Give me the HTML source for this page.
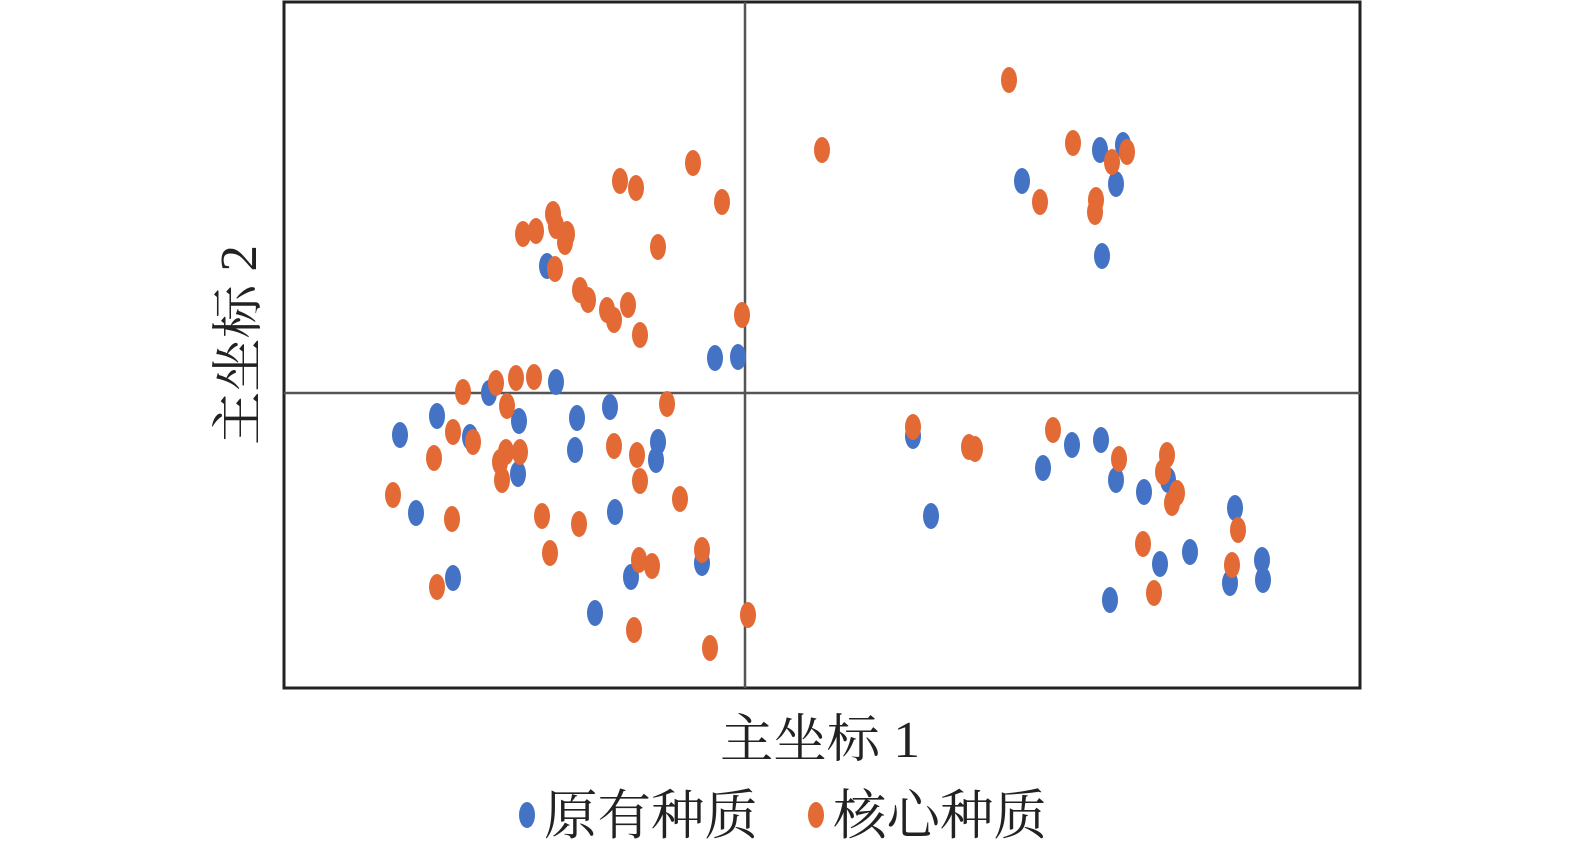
<!DOCTYPE html>
<html><head><meta charset="utf-8"><style>
html,body{margin:0;padding:0;background:#fff;overflow:hidden;width:1575px;height:846px;}
svg{display:block;}
text{font-family:"Liberation Serif","Noto Serif CJK SC",serif;fill:#222;}
</style></head><body>
<svg width="1575" height="846" viewBox="0 0 1575 846" xmlns="http://www.w3.org/2000/svg">
<rect x="284" y="2" width="1076" height="686" fill="#fff" stroke="#222" stroke-width="3"/>
<line x1="745" y1="2" x2="745" y2="688" stroke="#555" stroke-width="2.5"/>
<line x1="284" y1="393" x2="1360" y2="393" stroke="#555" stroke-width="2.5"/>
<g id="b" fill="#4472c4">
<ellipse cx="489" cy="393" rx="8" ry="13"/><ellipse cx="556" cy="382" rx="8" ry="13"/><ellipse cx="437" cy="416" rx="8" ry="13"/><ellipse cx="400" cy="435" rx="8" ry="13"/><ellipse cx="470" cy="437" rx="8" ry="13"/><ellipse cx="519" cy="421" rx="8" ry="13"/><ellipse cx="577" cy="418" rx="8" ry="13"/><ellipse cx="610" cy="407" rx="8" ry="13"/><ellipse cx="575" cy="450" rx="8" ry="13"/><ellipse cx="658" cy="442" rx="8" ry="13"/><ellipse cx="656" cy="460" rx="8" ry="13"/><ellipse cx="518" cy="474" rx="8" ry="13"/><ellipse cx="416" cy="513" rx="8" ry="13"/><ellipse cx="615" cy="512" rx="8" ry="13"/><ellipse cx="453" cy="578" rx="8" ry="13"/><ellipse cx="631" cy="577" rx="8" ry="13"/><ellipse cx="702" cy="563" rx="8" ry="13"/><ellipse cx="595" cy="613" rx="8" ry="13"/>
<ellipse cx="547" cy="266" rx="8" ry="13"/><ellipse cx="715" cy="358" rx="8" ry="13"/><ellipse cx="738" cy="357" rx="8" ry="13"/>
<ellipse cx="1100" cy="150" rx="8" ry="13"/><ellipse cx="1123" cy="145" rx="8" ry="13"/><ellipse cx="1022" cy="181" rx="8" ry="13"/><ellipse cx="1116" cy="184" rx="8" ry="13"/><ellipse cx="1102" cy="256" rx="8" ry="13"/>
<ellipse cx="913" cy="436" rx="8" ry="13"/><ellipse cx="931" cy="516" rx="8" ry="13"/><ellipse cx="1043" cy="468" rx="8" ry="13"/><ellipse cx="1072" cy="445" rx="8" ry="13"/><ellipse cx="1101" cy="440" rx="8" ry="13"/><ellipse cx="1116" cy="480" rx="8" ry="13"/><ellipse cx="1144" cy="492" rx="8" ry="13"/><ellipse cx="1168" cy="480" rx="8" ry="13"/><ellipse cx="1235" cy="508" rx="8" ry="13"/><ellipse cx="1160" cy="564" rx="8" ry="13"/><ellipse cx="1190" cy="552" rx="8" ry="13"/><ellipse cx="1230" cy="583" rx="8" ry="13"/><ellipse cx="1262" cy="560" rx="8" ry="13"/><ellipse cx="1263" cy="580" rx="8" ry="13"/><ellipse cx="1110" cy="600" rx="8" ry="13"/>
</g>
<g fill="#e46a35">
<ellipse cx="463" cy="392" rx="8" ry="13"/><ellipse cx="496" cy="383" rx="8" ry="13"/><ellipse cx="516" cy="378" rx="8" ry="13"/><ellipse cx="534" cy="377" rx="8" ry="13"/><ellipse cx="507" cy="406" rx="8" ry="13"/><ellipse cx="453" cy="432" rx="8" ry="13"/><ellipse cx="473" cy="442" rx="8" ry="13"/><ellipse cx="434" cy="458" rx="8" ry="13"/><ellipse cx="500" cy="462" rx="8" ry="13"/><ellipse cx="506" cy="452" rx="8" ry="13"/><ellipse cx="520" cy="452" rx="8" ry="13"/><ellipse cx="502" cy="480" rx="8" ry="13"/><ellipse cx="393" cy="495" rx="8" ry="13"/><ellipse cx="452" cy="519" rx="8" ry="13"/><ellipse cx="542" cy="516" rx="8" ry="13"/><ellipse cx="579" cy="524" rx="8" ry="13"/><ellipse cx="550" cy="553" rx="8" ry="13"/><ellipse cx="614" cy="446" rx="8" ry="13"/><ellipse cx="637" cy="455" rx="8" ry="13"/><ellipse cx="640" cy="481" rx="8" ry="13"/><ellipse cx="667" cy="404" rx="8" ry="13"/><ellipse cx="680" cy="499" rx="8" ry="13"/><ellipse cx="639" cy="560" rx="8" ry="13"/><ellipse cx="652" cy="566" rx="8" ry="13"/><ellipse cx="702" cy="550" rx="8" ry="13"/><ellipse cx="437" cy="587" rx="8" ry="13"/><ellipse cx="634" cy="630" rx="8" ry="13"/><ellipse cx="710" cy="648" rx="8" ry="13"/><ellipse cx="748" cy="615" rx="8" ry="13"/>
<ellipse cx="620" cy="181" rx="8" ry="13"/><ellipse cx="636" cy="188" rx="8" ry="13"/><ellipse cx="693" cy="163" rx="8" ry="13"/><ellipse cx="722" cy="202" rx="8" ry="13"/><ellipse cx="553" cy="214" rx="8" ry="13"/><ellipse cx="523" cy="234" rx="8" ry="13"/><ellipse cx="536" cy="231" rx="8" ry="13"/><ellipse cx="556" cy="226" rx="8" ry="13"/><ellipse cx="567" cy="234" rx="8" ry="13"/><ellipse cx="565" cy="242" rx="8" ry="13"/><ellipse cx="658" cy="247" rx="8" ry="13"/><ellipse cx="555" cy="269" rx="8" ry="13"/><ellipse cx="580" cy="290" rx="8" ry="13"/><ellipse cx="588" cy="300" rx="8" ry="13"/><ellipse cx="607" cy="310" rx="8" ry="13"/><ellipse cx="614" cy="320" rx="8" ry="13"/><ellipse cx="628" cy="305" rx="8" ry="13"/><ellipse cx="640" cy="335" rx="8" ry="13"/><ellipse cx="742" cy="315" rx="8" ry="13"/><ellipse cx="822" cy="150" rx="8" ry="13"/>
<ellipse cx="1009" cy="80" rx="8" ry="13"/><ellipse cx="1073" cy="143" rx="8" ry="13"/><ellipse cx="1112" cy="162" rx="8" ry="13"/><ellipse cx="1127" cy="152" rx="8" ry="13"/><ellipse cx="1040" cy="202" rx="8" ry="13"/><ellipse cx="1096" cy="200" rx="8" ry="13"/><ellipse cx="1095" cy="212" rx="8" ry="13"/>
<ellipse cx="913" cy="427" rx="8" ry="13"/><ellipse cx="975" cy="449" rx="8" ry="13"/><ellipse cx="969" cy="447" rx="8" ry="13"/><ellipse cx="1053" cy="430" rx="8" ry="13"/><ellipse cx="1119" cy="459" rx="8" ry="13"/><ellipse cx="1167" cy="455" rx="8" ry="13"/><ellipse cx="1163" cy="472" rx="8" ry="13"/><ellipse cx="1177" cy="493" rx="8" ry="13"/><ellipse cx="1172" cy="503" rx="8" ry="13"/><ellipse cx="1238" cy="530" rx="8" ry="13"/><ellipse cx="1143" cy="544" rx="8" ry="13"/><ellipse cx="1232" cy="565" rx="8" ry="13"/><ellipse cx="1154" cy="593" rx="8" ry="13"/>
</g>
<text x="720" y="757" font-size="52" textLength="200" lengthAdjust="spacingAndGlyphs">主坐标 1</text>
<text transform="translate(256,445) rotate(-90)" font-size="52" textLength="200" lengthAdjust="spacingAndGlyphs">主坐标 2</text>
<ellipse cx="527" cy="815" rx="8" ry="13" fill="#4472c4"/>
<text x="544" y="834" font-size="54" textLength="214" lengthAdjust="spacingAndGlyphs">原有种质</text>
<ellipse cx="816" cy="815" rx="8" ry="13" fill="#e46a35"/>
<text x="833" y="834" font-size="54" textLength="214" lengthAdjust="spacingAndGlyphs">核心种质</text>
</svg>
</body></html>
